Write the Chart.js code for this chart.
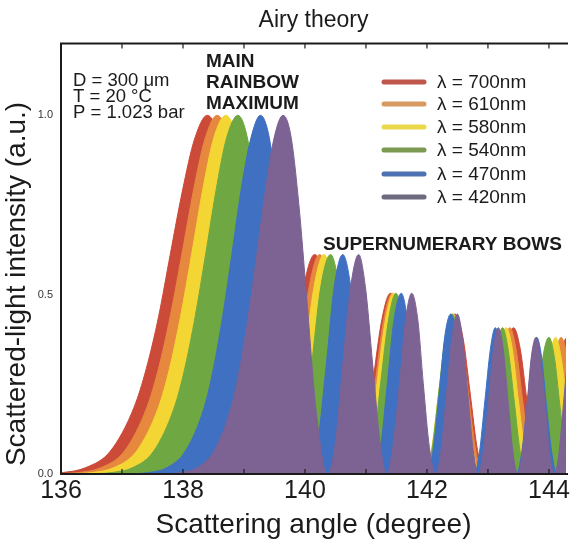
<!DOCTYPE html>
<html>
<head>
<meta charset="utf-8">
<script src="https://cdn.jsdelivr.net/npm/chart.js@4.4.1/dist/chart.umd.min.js"></script>
<style>
  html, body { margin: 0; padding: 0; background: #fff; }
  #wrap { width: 572px; height: 547px; position: relative; }
</style>
</head>
<body>
<div id="wrap"><canvas id="airy"></canvas></div>
<script>
// Normalised intensity profile shared by every wavelength (main bow, then 6 supernumerary lobes)
const intensity = [0.0002, 0.0009, 0.004, 0.018, 0.064, 0.187, 0.295, 0.439, 0.611, 0.789, 0.934, 1.0,
  0.942, 0.751, 0.466, 0.18, 0,
  0.089, 0.306, 0.523, 0.612, 0.523, 0.306, 0.089, 0,
  0.074, 0.252, 0.430, 0.504, 0.430, 0.252, 0.074, 0,
  0.065, 0.223, 0.381, 0.446, 0.381, 0.223, 0.065, 0,
  0.060, 0.204, 0.348, 0.408, 0.348, 0.204, 0.060, 0,
  0.056, 0.190, 0.325, 0.381, 0.325, 0.190, 0.056, 0,
  0.052, 0.180, 0.307, 0.359, 0.307, 0.180, 0.052, 0];

// Scattering angle (degree) of each profile point, per wavelength
const angle700 = [135.23, 135.62, 136.02, 136.41, 136.81, 137.20, 137.40, 137.60, 137.79, 137.99, 138.19, 138.40,
  138.58, 138.78, 138.98, 139.18, 139.44,
  139.62, 139.80, 139.98, 140.16, 140.33, 140.49, 140.66, 140.82,
  140.97, 141.11, 141.26, 141.40, 141.54, 141.68, 141.82, 141.96,
  142.08, 142.21, 142.34, 142.46, 142.59, 142.71, 142.83, 142.96,
  143.07, 143.19, 143.30, 143.42, 143.53, 143.64, 143.76, 143.87,
  143.98, 144.09, 144.19, 144.30, 144.41, 144.51, 144.62, 144.72,
  144.82, 144.93, 145.03, 145.13, 145.23, 145.33, 145.43, 145.53];
const angle610 = [135.53, 135.90, 136.28, 136.66, 137.04, 137.41, 137.60, 137.79, 137.98, 138.17, 138.36, 138.56,
  138.73, 138.92, 139.11, 139.30, 139.56,
  139.73, 139.90, 140.07, 140.24, 140.40, 140.56, 140.72, 140.88,
  141.01, 141.15, 141.29, 141.43, 141.56, 141.69, 141.83, 141.96,
  142.08, 142.20, 142.32, 142.44, 142.56, 142.68, 142.80, 142.91,
  143.02, 143.13, 143.25, 143.36, 143.46, 143.57, 143.68, 143.79,
  143.89, 143.99, 144.10, 144.20, 144.30, 144.40, 144.50, 144.60,
  144.70, 144.80, 144.89, 144.99, 145.08, 145.18, 145.27, 145.37];
const angle580 = [135.79, 136.15, 136.51, 136.87, 137.24, 137.60, 137.78, 137.96, 138.14, 138.32, 138.50, 138.70,
  138.87, 139.05, 139.23, 139.41, 139.65,
  139.82, 139.98, 140.15, 140.31, 140.46, 140.62, 140.77, 140.92,
  141.05, 141.18, 141.32, 141.45, 141.58, 141.70, 141.83, 141.96,
  142.07, 142.19, 142.31, 142.42, 142.54, 142.65, 142.76, 142.87,
  142.98, 143.09, 143.19, 143.30, 143.40, 143.50, 143.61, 143.71,
  143.81, 143.91, 144.01, 144.11, 144.20, 144.30, 144.40, 144.49,
  144.59, 144.68, 144.77, 144.86, 144.95, 145.05, 145.14, 145.23];
const angle540 = [136.15, 136.49, 136.83, 137.18, 137.52, 137.86, 138.03, 138.20, 138.37, 138.54, 138.71, 138.90,
  139.05, 139.22, 139.40, 139.57, 139.80,
  139.95, 140.11, 140.26, 140.42, 140.56, 140.71, 140.85, 140.99,
  141.12, 141.24, 141.37, 141.49, 141.61, 141.73, 141.85, 141.97,
  142.08, 142.19, 142.30, 142.41, 142.52, 142.62, 142.73, 142.84,
  142.94, 143.04, 143.14, 143.24, 143.33, 143.43, 143.53, 143.63,
  143.72, 143.81, 143.90, 144.00, 144.09, 144.18, 144.27, 144.36,
  144.45, 144.54, 144.62, 144.71, 144.80, 144.88, 144.97, 145.06];
const angle470 = [136.83, 137.13, 137.44, 137.74, 138.04, 138.35, 138.50, 138.65, 138.80, 138.95, 139.11, 139.27,
  139.41, 139.56, 139.71, 139.86, 140.07,
  140.21, 140.35, 140.48, 140.62, 140.75, 140.88, 141.00, 141.13,
  141.24, 141.35, 141.46, 141.58, 141.68, 141.79, 141.89, 142.00,
  142.10, 142.20, 142.29, 142.39, 142.49, 142.58, 142.68, 142.77,
  142.86, 142.95, 143.04, 143.12, 143.21, 143.30, 143.39, 143.47,
  143.55, 143.64, 143.72, 143.80, 143.88, 143.96, 144.05, 144.13,
  144.20, 144.28, 144.36, 144.44, 144.51, 144.59, 144.67, 144.74];
const angle420 = [137.40, 137.68, 137.96, 138.24, 138.51, 138.79, 138.93, 139.07, 139.21, 139.35, 139.49, 139.64,
  139.77, 139.90, 140.04, 140.18, 140.37,
  140.50, 140.62, 140.75, 140.88, 140.99, 141.11, 141.23, 141.34,
  141.44, 141.55, 141.65, 141.75, 141.85, 141.94, 142.04, 142.14,
  142.23, 142.32, 142.41, 142.50, 142.58, 142.67, 142.76, 142.84,
  142.92, 143.01, 143.09, 143.17, 143.25, 143.33, 143.41, 143.49,
  143.56, 143.64, 143.71, 143.79, 143.86, 143.94, 144.01, 144.09,
  144.16, 144.23, 144.30, 144.37, 144.44, 144.51, 144.58, 144.65];

const wavelengths = ['700', '610', '580', '540', '470', '420'];
const angleSets = [angle700, angle610, angle580, angle540, angle470, angle420];
const xTicks = [136, 138, 140, 142, 144];
const yTicks = [0, 0.5, 1.0];

const fillColors = ['#cc4a38', '#e6883e', '#f3d633', '#6fa842', '#3f70c2', '#7c6393'];
const legendColors = ['#c0574c', '#d99a62', '#ead84a', '#7c9a52', '#4d72b2', '#6e6a80'];

const ink = '#1b1b1b';
const fontFamily = "'Liberation Sans', Arial, Helvetica, sans-serif";
Chart.defaults.font.family = fontFamily;

const datasets = angleSets.map((angles, i) => ({
  label: 'λ = ' + wavelengths[i] + 'nm',
  data: angles.map((a, k) => ({ x: a, y: intensity[k] })),
  backgroundColor: fillColors[i],
  borderColor: fillColors[i],
  borderWidth: 1,
  pointRadius: 0,
  fill: 'origin',
  cubicInterpolationMode: 'monotone',
  order: angleSets.length - i   // red at the back, violet in front
}));

// Frame, inward ticks, legend and text notes
const overlay = {
  id: 'overlay',
  afterDatasetsDraw(chart) {
    const { ctx, chartArea: a, scales: { x } } = chart;
    ctx.save();
    ctx.strokeStyle = ink;
    ctx.lineWidth = 2;
    ctx.beginPath();
    ctx.moveTo(a.right + 2, a.top);
    ctx.lineTo(a.left, a.top);
    ctx.lineTo(a.left, a.bottom);
    ctx.lineTo(a.right + 2, a.bottom);
    ctx.stroke();

    ctx.lineWidth = 1.2;
    ctx.beginPath();
    for (let d = 137; d <= 144; d++) {
      const px = x.getPixelForValue(d);
      ctx.moveTo(px, a.top);
      ctx.lineTo(px, a.top + 5);
      ctx.moveTo(px, a.bottom);
      ctx.lineTo(px, a.bottom - 5);
    }
    ctx.stroke();

    // legend
    const rows = [82, 104, 127, 150, 174, 197];
    ctx.font = '19px ' + fontFamily;
    ctx.textBaseline = 'middle';
    ctx.textAlign = 'left';
    ctx.lineWidth = 5;
    ctx.lineCap = 'round';
    datasets.forEach((ds, i) => {
      ctx.strokeStyle = legendColors[i];
      ctx.beginPath();
      ctx.moveTo(384, rows[i]);
      ctx.lineTo(424, rows[i]);
      ctx.stroke();
      ctx.fillStyle = ink;
      ctx.fillText(ds.label, 437, rows[i] + 1);
    });

    // conditions
    ctx.font = '18.5px ' + fontFamily;
    ctx.fillText('D = 300 μm', 73, 81);
    ctx.fillText('T = 20 °C', 73, 97);
    ctx.fillText('P = 1.023 bar', 73, 113);

    ctx.font = 'bold 19px ' + fontFamily;
    ctx.fillText('MAIN', 206, 62);
    ctx.fillText('RAINBOW', 206, 83);
    ctx.fillText('MAXIMUM', 206, 104);
    ctx.fillText('SUPERNUMERARY BOWS', 323, 245);

    // y axis title
    ctx.font = '28px ' + fontFamily;
    ctx.textAlign = 'center';
    ctx.translate(17, 284);
    ctx.rotate(-Math.PI / 2);
    ctx.fillText('Scattered-light intensity (a.u.)', 0, 0);
    ctx.restore();
  }
};

new Chart(document.getElementById('airy'), {
  type: 'line',
  data: { datasets },
  options: {
    responsive: true,
    maintainAspectRatio: false,
    animation: false,
    events: [],
    layout: { padding: 0, autoPadding: false },
    plugins: {
      legend: { display: false },
      tooltip: { enabled: false },
      title: {
        display: true,
        text: 'Airy theory',
        fullSize: false,
        color: ink,
        font: { size: 23, weight: 'normal' },
        padding: { top: 7, bottom: 9 }
      }
    },
    scales: {
      x: {
        type: 'linear',
        min: 136,
        max: 144.28,
        grid: { display: false, drawTicks: false },
        border: { display: false },
        afterBuildTicks: s => { s.ticks = xTicks.map(v => ({ value: v })); },
        afterFit: s => { s.height = 73; },
        ticks: { color: ink, font: { size: 25 }, padding: 2, maxRotation: 0 },
        title: {
          display: true,
          text: 'Scattering angle (degree)',
          color: ink,
          font: { size: 28 },
          padding: { top: 0, bottom: 5 }
        }
      },
      y: {
        min: 0,
        max: 1.2,
        grid: { display: false, drawTicks: false },
        border: { display: false },
        afterBuildTicks: s => { s.ticks = yTicks.map(v => ({ value: v })); },
        afterFit: s => { s.width = 61; },
        ticks: { color: '#333', font: { size: 11 }, padding: 8, callback: v => v.toFixed(1) }
      }
    }
  },
  plugins: [overlay]
});
</script>
</body>
</html>
